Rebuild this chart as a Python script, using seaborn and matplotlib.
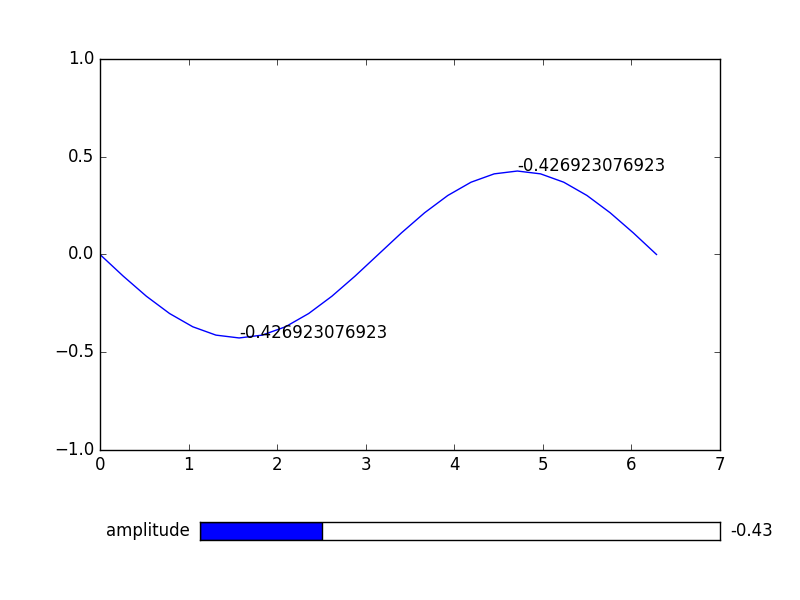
import matplotlib
matplotlib.use("Agg")
import matplotlib.pyplot as plt
import seaborn as sns
import pandas as pd

x_vals = [0.0, 0.2618, 0.5236, 0.7854, 1.0472, 1.309, 1.5708, 1.8326, 2.0944, 2.3562, 2.618, 2.8798,
          3.1416, 3.4034, 3.6652, 3.927, 4.1888, 4.4506, 4.7124, 4.9742, 5.236, 5.4978, 5.7596, 6.0214, 6.2832]
y_vals = [0.0, -0.1105, -0.2135, -0.3019, -0.3697, -0.4124, -0.4269, -0.4124, -0.3697, -0.3019, -0.2135, -0.1105,
          0.0, 0.1105, 0.2135, 0.3019, 0.3697, 0.4124, 0.4269, 0.4124, 0.3697, 0.3019, 0.2135, 0.1105, 0.0]
amplitude = -0.426923076923
label_x = [1.5708, 4.7124]
label_y = [-0.4269, 0.4269]
slider_min, slider_max = -1.0, 1.45

plt.style.use("classic")
plt.rcParams["font.family"] = ["DejaVu Sans"]
fig = plt.figure(figsize=(8, 6), dpi=100)
fig.patch.set_facecolor("white")
ax = fig.add_axes([0.125, 0.25, 0.775, 0.6517])
df = pd.DataFrame({"x": x_vals, "y": y_vals})
sns.lineplot(data=df, x="x", y="y", ax=ax, color="blue", linewidth=1)
ax.set_xlim(0, 7)
ax.set_ylim(-1, 1)
ax.set_xticks(range(0, 8))
ax.set_yticks([-1.0, -0.5, 0.0, 0.5, 1.0])
ax.set_xlabel("")
ax.set_ylabel("")
for lx, ly in zip(label_x, label_y):
    ax.text(lx, ly, repr(amplitude) if False else "-0.426923076923", fontsize=12)

sax = fig.add_axes([0.25, 0.1, 0.65, 0.03])
sax.barh([0], [amplitude - slider_min], left=slider_min, height=1, color="blue", edgecolor="black")
sax.set_xlim(slider_min, slider_max)
sax.set_ylim(-0.5, 0.5)
sax.set_xticks([])
sax.set_yticks([])
sax.text(-0.02, 0.5, "amplitude", transform=sax.transAxes, ha="right", va="center", fontsize=12)
sax.text(1.02, 0.5, "%.2f" % amplitude, transform=sax.transAxes, ha="left", va="center", fontsize=12)
fig.savefig("out.png", dpi=100, facecolor="white")
